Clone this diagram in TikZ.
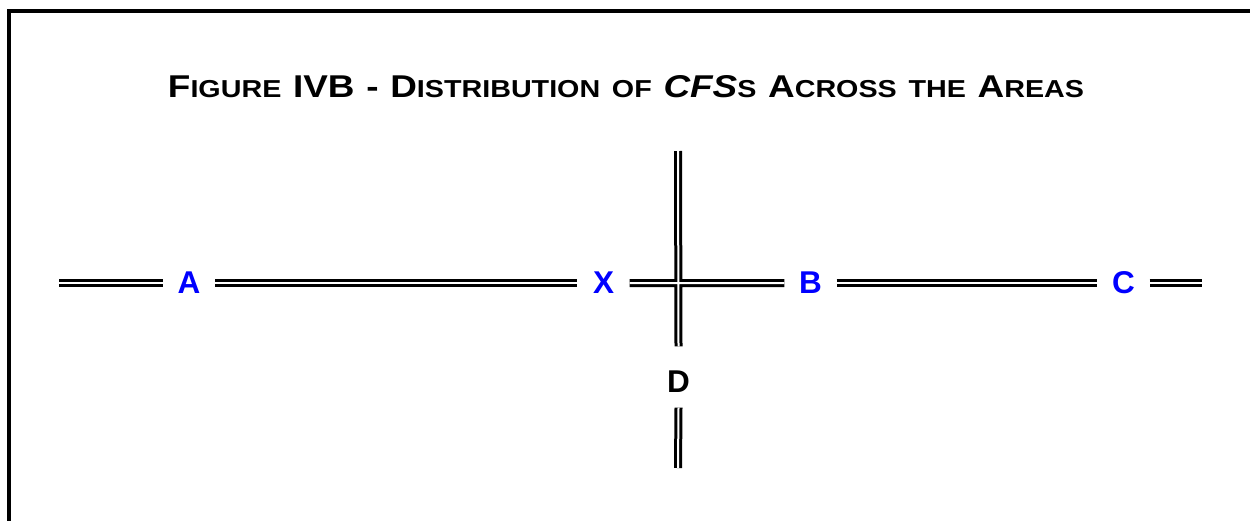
\documentclass[tikz,border=0pt]{standalone}
\usepackage{fontspec}
\usepackage{graphicx}
\setmainfont{Liberation Sans}
\definecolor{lblue}{RGB}{0,0,255}
\newcommand{\bigf}{\fontsize{31.5}{37}\selectfont}
\newcommand{\smallf}{\fontsize{24.5}{28}\selectfont}
\newcommand{\wsp}{\hspace{10pt}}
\tikzset{
  dbl/.style={draw=black, line width=3pt, double=white, double distance=2pt},
  area/.style={text=lblue, font=\bfseries\bigf, inner sep=0pt, minimum width=52pt, minimum height=24pt},
  darea/.style={text=black, font=\bfseries\bigf, inner sep=0pt},
  border/.style={draw=black, line width=3.5pt}
}
\begin{document}
\begin{tikzpicture}[x=1pt,y=-1pt]
\useasboundingbox (0,0) rectangle (1250,520);
\draw[border] (1260,11) -- (8.75,11) -- (8.75,530);
\node[font=\bfseries, anchor=base, inner sep=0pt] (title) at (626,97)
  {\resizebox{916pt}{\height}{\bigf F\smallf IGURE\wsp\bigf IVB\wsp-\wsp D\smallf ISTRIBUTION\wsp OF\wsp\bigf\itshape CFS\upshape\smallf S\wsp\bigf A\smallf CROSS\wsp THE\wsp\bigf A\smallf REAS}};
\coordinate (l0) at (59,283);
\node[area] (A) at (189,283) {A};
\node[area] (X) at (603.5,283) {X};
\node[area] (B) at (810.5,283) {B};
\node[area] (C) at (1123.5,283) {C};
\coordinate (r0) at (1202,283);
\coordinate (vt) at (678,151);
\node[darea] (D) at (678.5,381.5) {D};
\coordinate (vb) at (678,468);
\draw[dbl] (l0) -- (A.west);
\draw[dbl] (A.east) -- (X.west);
\draw[dbl] (X.east) -- (B.west) (vt) -- ([yshift=24pt]D.north);
\draw[dbl] (B.east) -- (C.west);
\draw[dbl] (C.east) -- (r0);
\draw[dbl] ([yshift=-15pt]D.south) -- (vb);
\end{tikzpicture}
\end{document}
